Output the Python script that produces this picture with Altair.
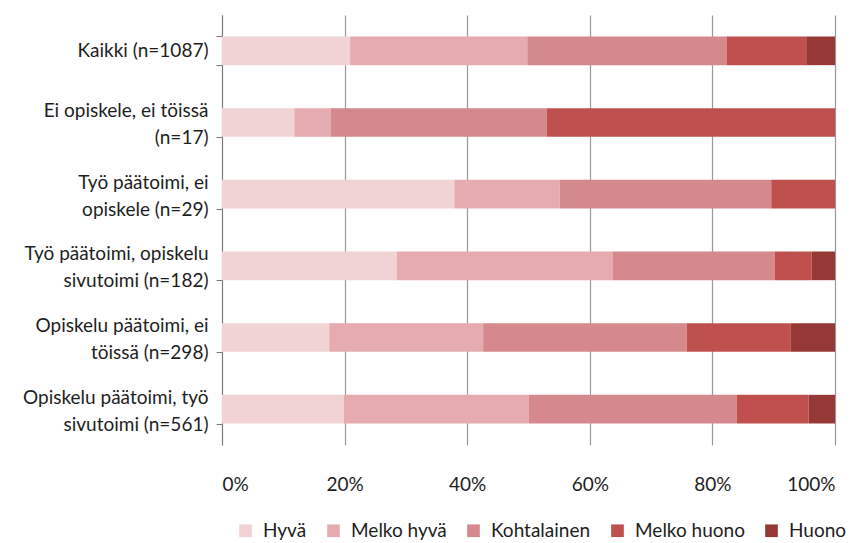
import altair as alt
import pandas as pd

categories = [
    "Kaikki (n=1087)",
    "Ei opiskele, ei töissä|(n=17)",
    "Työ päätoimi, ei|opiskele (n=29)",
    "Työ päätoimi, opiskelu|sivutoimi (n=182)",
    "Opiskelu päätoimi, ei|töissä (n=298)",
    "Opiskelu päätoimi, työ|sivutoimi (n=561)",
]
levels = ["Hyvä", "Melko hyvä", "Kohtalainen", "Melko huono", "Huono"]
colors = ["#F2D3D3", "#E5ABAF", "#D5898C", "#C0504E", "#963836"]

hyva = [20.9, 11.8, 37.9, 28.5, 17.5, 19.9]
melko_hyva = [28.9, 5.9, 17.2, 35.2, 25.1, 30.1]
kohtalainen = [32.5, 35.3, 34.5, 26.5, 33.2, 34.0]
melko_huono = [13.0, 47.0, 10.4, 6.0, 17.0, 11.7]
huono = [4.7, 0.0, 0.0, 3.8, 7.2, 4.3]

series = [hyva, melko_hyva, kohtalainen, melko_huono, huono]
rows = []
for lvl_i, (lvl, vals) in enumerate(zip(levels, series)):
    for cat, v in zip(categories, vals):
        rows.append({"Ryhmä": cat, "Arvio": lvl, "order": lvl_i, "value": v})
df = pd.DataFrame(rows)

FONT = "Lato"
TXT = "#1e1e1e"

chart = alt.Chart(df).mark_bar().encode(
    y=alt.Y("Ryhmä:N", sort=categories, title=None,
            scale=alt.Scale(paddingInner=0.6, paddingOuter=0.3),
            axis=alt.Axis(labelExpr="isValid(datum.value) ? split(datum.value, '|') : ''",
                          labelFontSize=19, labelFont=FONT, labelColor=TXT,
                          labelLineHeight=27, labelPadding=8, labelLimit=300,
                          labelOffset={"condition": {"test": "isValid(datum.value) && indexof(datum.value, '|') >= 0", "value": -12}, "value": 0},
                          tickBand="extent", tickSize=6, tickColor="#777",
                          domainColor="#777", grid=False)),
    x=alt.X("value:Q", stack="normalize", title=None,
            scale=alt.Scale(domain=[0, 1]),
            axis=alt.Axis(format="%", values=[0, 0.2, 0.4, 0.6, 0.8, 1.0],
                          labelFontSize=19, labelFont=FONT, labelColor=TXT,
                          labelPadding=30, domain=False, ticks=False,
                          grid=True, gridColor="#999", gridWidth=1.2)),
    color=alt.Color("Arvio:N", sort=levels,
                    scale=alt.Scale(domain=levels, range=colors),
                    legend=alt.Legend(title=None, orient="none", direction="horizontal",
                                      legendX=14, legendY=506,
                                      symbolType="square", symbolSize=160,
                                      symbolStrokeWidth=0, symbolOpacity=1,
                                      labelFontSize=19, labelFont=FONT, labelColor=TXT,
                                      columnPadding=17, labelOffset=8)),
    order=alt.Order("order:Q"),
).properties(
    width=613, height=430,
    autosize=alt.AutoSizeParams(type="none"),
    padding={"left": 214, "top": 7, "right": 16, "bottom": 97},
).configure_view(stroke=None).configure_axisY(domainColor="#777")

chart.save("out.html", embed_options={"renderer": "svg", "actions": False})
